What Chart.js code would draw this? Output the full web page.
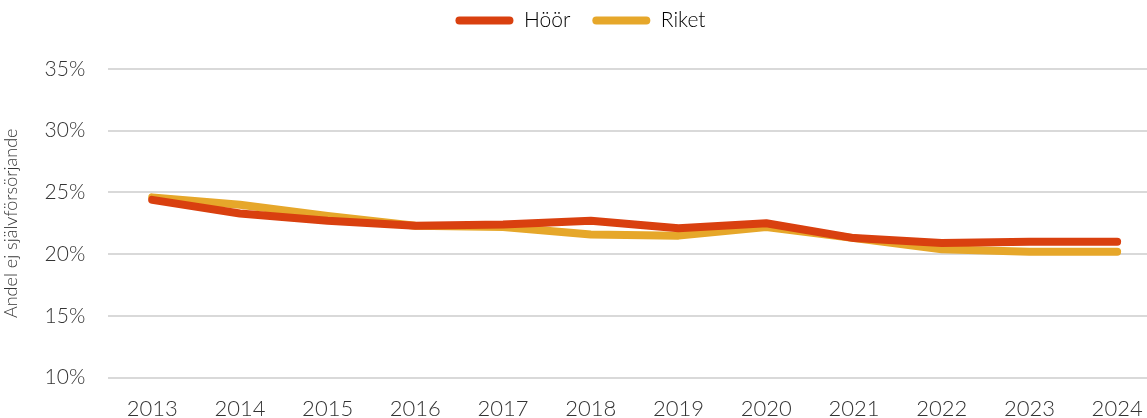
<!DOCTYPE html>
<html>
<head>
<meta charset="utf-8">
<script src="https://cdn.jsdelivr.net/npm/chart.js@4"></script>
<style>
    html, body { margin: 0; padding: 0; background: #fff; overflow: hidden; }
    /* plot runs a little past the right and bottom edges */
    #chart { display: block; }
</style>
</head>
<body>
<canvas id="chart" width="1161" height="440"></canvas>
<script>
// Years on the x axis
var years = ["2013", "2014", "2015", "2016", "2017", "2018", "2019", "2020", "2021", "2022", "2023", "2024"];

// Share not self-supporting, percent
var hoor = [24.4, 23.3, 22.7, 22.3, 22.4, 22.7, 22.1, 22.5, 21.3, 20.9, 21.0, 21.0];
var riket = [24.6, 24.0, 23.1, 22.3, 22.2, 21.6, 21.5, 22.2, 21.3, 20.4, 20.2, 20.2];

var yTicks = [10, 15, 20, 25, 30, 35];

Chart.defaults.font.family = "Lato, 'Open Sans', sans-serif";
Chart.defaults.font.weight = 300;
Chart.defaults.color = '#404040';

// extra room between the legend and the plot, legend itself nudged up
var legendGap = {
    id: 'legendGap',
    beforeInit: function (chart) {
        var fit = chart.legend.fit;
        chart.legend.fit = function () {
            fit.bind(chart.legend)();
            this.height += 16;
        };
    },
    afterLayout: function (chart) {
        chart.legend.top -= 12;
    }
};

var ctx = document.getElementById('chart');
var chart = new Chart(ctx, {
    type: 'line',
    data: {
        labels: years,
        datasets: [{
            label: "Höör",
            data: hoor,
            borderColor: '#d9400f',
            backgroundColor: '#d9400f',
            borderWidth: 8,
            borderCapStyle: 'round',
            borderJoinStyle: 'round',
            pointRadius: 0,
            tension: 0,
            fill: false
        }, {
            label: "Riket",
            data: riket,
            borderColor: '#e6a72a',
            backgroundColor: '#e6a72a',
            borderWidth: 8,
            borderCapStyle: 'round',
            borderJoinStyle: 'round',
            pointRadius: 0,
            tension: 0,
            fill: false
        }]
    },
    plugins: [legendGap],
    options: {
        responsive: false,
        animation: false,
        layout: {
            padding: { left: 0, right: 0, top: 0, bottom: 0 }
        },
        plugins: {
            legend: {
                display: true,
                position: 'top',
                labels: {
                    boxWidth: 58,
                    boxHeight: 8,
                    useBorderRadius: true,
                    borderRadius: 4,
                    padding: 22,
                    color: '#222',
                    font: { size: 21, weight: 300 },
                    generateLabels: function (c) {
                        return c.data.datasets.map(function (ds, i) {
                            return {
                                text: ds.label,
                                fillStyle: ds.borderColor,
                                strokeStyle: ds.borderColor,
                                lineWidth: 0,
                                borderRadius: 4,
                                datasetIndex: i,
                                hidden: false
                            };
                        });
                    }
                }
            },
            tooltip: { enabled: false }
        },
        scales: {
            x: {
                offset: true,
                grid: { display: false, drawTicks: false },
                border: { display: false },
                ticks: {
                    font: { size: 22 },
                    color: '#333',
                    maxRotation: 0,
                    autoSkip: false,
                    padding: 18
                }
            },
            y: {
                min: 10,
                max: 35,
                afterBuildTicks: function (axis) {
                    axis.ticks = yTicks.map(function (v) { return { value: v }; });
                },
                grid: { color: '#d9d9d9', lineWidth: 2, drawTicks: false },
                border: { display: false },
                ticks: {
                    font: { size: 21 },
                    color: '#333',
                    padding: 23,
                    callback: function (v) { return v + '%'; }
                },
                title: {
                    display: true,
                    text: "Andel ej självförsörjande",
                    font: { size: 18, weight: 300 },
                    color: '#333',
                    padding: { top: 0, bottom: 0 }
                }
            }
        }
    }
});
</script>
</body>
</html>
